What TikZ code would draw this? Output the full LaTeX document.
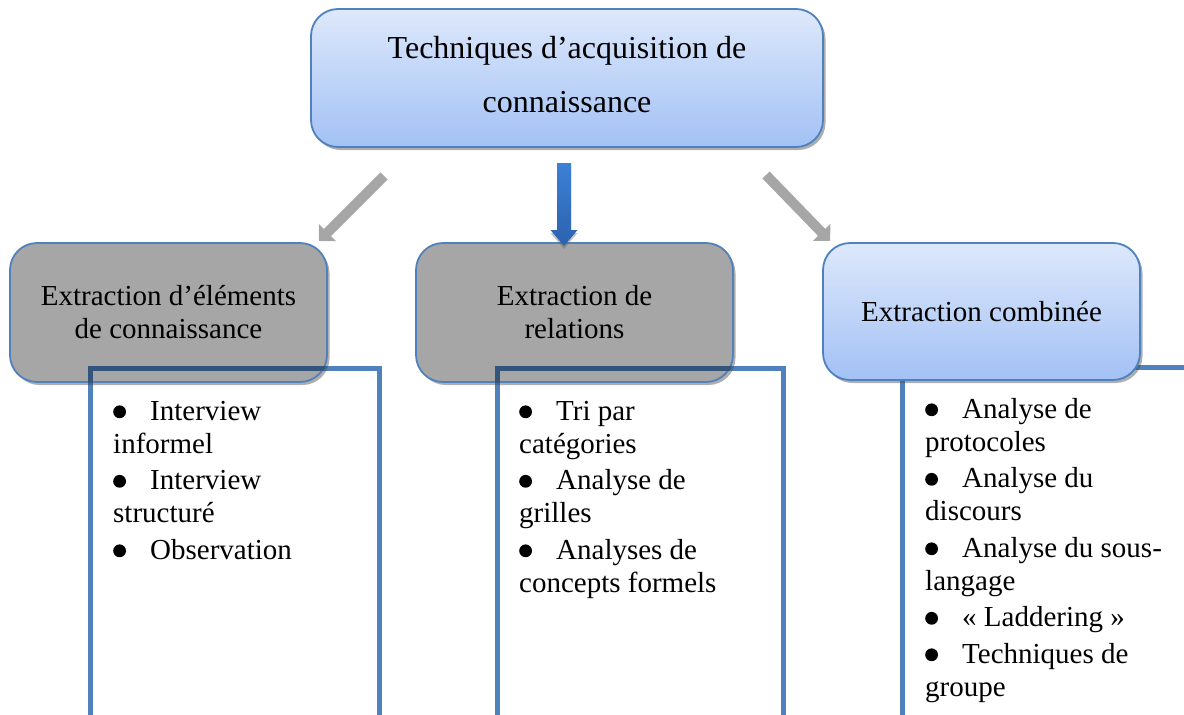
\documentclass[tikz,border=0pt]{standalone}
\usepackage{fontspec}
\setmainfont{Liberation Serif}
\usetikzlibrary{shadows,arrows.meta,calc}
\definecolor{bordblue}{HTML}{4F81BD}
\definecolor{topA}{HTML}{DDE8FB}
\definecolor{topB}{HTML}{A3C1F5}
\definecolor{boxgray}{HTML}{A6A6A6}
\definecolor{darkline}{HTML}{33547B}
\definecolor{arrgray}{HTML}{A6A6A6}
\definecolor{arrblueA}{HTML}{3D80D6}
\definecolor{arrblueB}{HTML}{2B62AE}
\newcommand{\lbul}{\makebox[37pt][l]{\raisebox{2pt}{\tikz\fill (0,0) circle (6.4pt);}}}
\newcommand{\lstrut}{\rule{0pt}{22pt}}
\begin{document}
\begin{tikzpicture}[x=1pt,y=-1pt,
  myshadow/.style={drop shadow={shadow xshift=2.5pt,shadow yshift=-3pt,opacity=0.45,fill=black!70}},
  basebox/.style={rectangle, rounded corners=27pt, draw=bordblue, line width=1.8pt, align=center, myshadow, inner sep=0pt},
  topbox/.style={basebox, top color=topA, bottom color=topB, minimum width=512pt, minimum height=138pt, font=\fontsize{32}{54}\selectfont},
  graybox/.style={basebox, fill=boxgray, minimum width=317pt, minimum height=139pt, font=\fontsize{29}{33}\selectfont},
  bluebox/.style={basebox, top color=topA, bottom color=topB, minimum width=317pt, minimum height=137pt, font=\fontsize{29}{33}\selectfont},
  listline/.style={draw=bordblue, line width=5pt},
  listtext/.style={anchor=north west, inner sep=0pt, align=left, font=\fontsize{29}{33}\selectfont},
  garrow/.style={draw=arrgray, line width=10pt, -{Triangle[width=24pt,length=12pt]}}
]
\path[use as bounding box] (0,0) rectangle (1184,715);
\clip (0,0) rectangle (1184,715);

% list frames
\draw[listline] (90,368) rectangle (379,740);
\draw[listline] (497,368) rectangle (783,740);
\draw[listline] (902,367) rectangle (1220,740);

% boxes
\node[topbox] (top) at (567,78) {Techniques d’acquisition de\\ connaissance\rule[-8pt]{0pt}{8pt}};
\node[graybox] (lb) at (168.5,312.5) {Extraction d’éléments\\ de connaissance};
\node[graybox] (mb) at (574.5,312.5) {Extraction de\\ relations};
\node[bluebox] (rb) at (981.5,311.5) {Extraction combinée};

% frame parts seen through the grey boxes
\begin{scope}
  \clip[rounded corners=27pt] (lb.south west) rectangle (lb.north east);
  \draw[listline, draw=darkline] (90,368) rectangle (379,740);
\end{scope}
\begin{scope}
  \clip[rounded corners=27pt] (mb.south west) rectangle (mb.north east);
  \draw[listline, draw=darkline] (497,368) rectangle (783,740);
\end{scope}

% arrows
\coordinate (la1) at (384,176);
\coordinate (la2) at (319,241);
\coordinate (ra1) at (766,175);
\coordinate (ra2) at (830,241);
\coordinate (ma1) at (564,163);
\coordinate (ma2) at (564,246);
\draw[garrow] (la1) -- (la2);
\draw[garrow] (ra1) -- (ra2);
\shade[top color=arrblueA, bottom color=arrblueB, drop shadow={shadow xshift=0pt,shadow yshift=-3pt,opacity=0.4,fill=black!60}]
  ($(ma1)+(-7,0)$) -- ($(ma1)+(7,0)$) -- ($(ma2)+(7,-16)$) -- ($(ma2)+(13.5,-16)$) -- (ma2)
  -- ($(ma2)+(-13.5,-16)$) -- ($(ma2)+(-7,-16)$) -- cycle;

% lists
\node[listtext] (l1) at (113,398) {\lstrut\lbul Interview\\ informel\\[3.5pt] \lbul Interview\\ structuré\\[3.5pt] \lbul Observation};
\node[listtext] (l2) at (519,398) {\lstrut\lbul Tri par\\ catégories\\[3.5pt] \lbul Analyse de\\ grilles\\[3.5pt] \lbul Analyses de\\ concepts formels};
\node[listtext] (l3) at (925,396) {\lstrut\lbul Analyse de\\ protocoles\\[3.5pt] \lbul Analyse du\\ discours\\[3.5pt] \lbul Analyse du sous-\\ langage\\[3.5pt] \lbul « Laddering »\\[3.5pt] \lbul Techniques de\\ groupe};
\end{tikzpicture}
\end{document}
